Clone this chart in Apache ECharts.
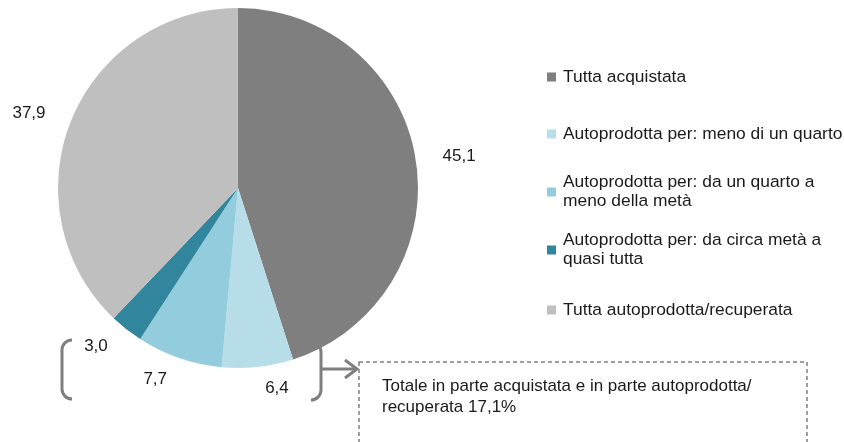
<!DOCTYPE html>
<html>
<head>
<meta charset="utf-8">
<script src="https://cdn.jsdelivr.net/npm/echarts@6/dist/echarts.min.js"></script>
<style>
  html, body { margin: 0; padding: 0; background: #fff; }
  #chart { width: 844px; height: 442px; }
</style>
</head>
<body>
<div id="chart"></div>
<script>
// categorie e valori (%)
const categories = [
  'Tutta acquistata',
  'Autoprodotta per: meno di un quarto',
  'Autoprodotta per: da un quarto a meno della metà',
  'Autoprodotta per: da circa metà a quasi tutta',
  'Tutta autoprodotta/recuperata'
]
const legendLabels = [
  'Tutta acquistata',
  'Autoprodotta per: meno di un quarto',
  'Autoprodotta per: da un quarto a\nmeno della metà',
  'Autoprodotta per: da circa metà a\nquasi tutta',
  'Tutta autoprodotta/recuperata'
]
const values = [45.1, 6.4, 7.7, 3.0, 37.9]
const colors = ['#7f7f7f', '#b7dee8', '#93cddd', '#31859c', '#bfbfbf']
const noteText = 'Totale in parte acquistata e in parte autoprodotta/\nrecuperata 17,1%'

const font = '"Liberation Sans", Arial, sans-serif'
const textColor = '#1a1a1a'
const bracketStyle = { stroke: '#7f7f7f', lineWidth: 3, fill: 'none' }

const myChart = echarts.init(document.getElementById('chart'))

// una legenda per voce, per tenere la spaziatura dell'originale
const legendTops = [77, 134, 192, 250, 310]
const legends = categories.map((name, i) => {
  const twoLines = legendLabels[i].indexOf('\n') >= 0
  return {
    data: [name],
    left: 547,
    top: legendTops[i] - (twoLines ? 28.5 : 9.5),
    padding: 0,
    icon: 'rect',
    itemWidth: 9,
    itemHeight: 9,
    itemGap: 0,
    selectedMode: false,
    formatter: () => legendLabels[i],
    textStyle: {
      fontFamily: font,
      fontSize: 17.4,
      color: textColor,
      lineHeight: 19,
      padding: twoLines ? [19, 0, 0, 2] : [0, 0, 0, 2]
    }
  }
})

myChart.setOption({
  animation: false,
  color: colors,
  legend: legends,
  series: [
    {
      type: 'pie',
      center: [238, 188],
      radius: 180,
      startAngle: 90,
      clockwise: true,
      avoidLabelOverlap: false,
      data: categories.map((name, i) => ({ name: name, value: values[i] })),
      label: {
        show: true,
        position: 'outside',
        fontFamily: font,
        fontSize: 17,
        color: textColor,
        formatter: (p) => p.value.toFixed(1).replace('.', ',')
      },
      labelLine: { show: false, length: 22, length2: 0 },
      emphasis: { disabled: true }
    }
  ],
  graphic: [
    // parentesi sinistra
    { type: 'line', shape: { x1: 62, y1: 350, x2: 62, y2: 389 }, style: bracketStyle },
    { type: 'arc', shape: { cx: 72, cy: 350, r: 10, startAngle: Math.PI, endAngle: Math.PI * 1.5 }, style: bracketStyle },
    { type: 'arc', shape: { cx: 72, cy: 389, r: 10, startAngle: Math.PI / 2, endAngle: Math.PI }, style: bracketStyle },
    // parentesi destra con freccia
    { type: 'line', shape: { x1: 321, y1: 352, x2: 321, y2: 390 }, style: bracketStyle },
    { type: 'arc', shape: { cx: 311, cy: 352, r: 10, startAngle: Math.PI * 1.5, endAngle: Math.PI * 2 }, style: bracketStyle },
    { type: 'arc', shape: { cx: 311, cy: 390, r: 10, startAngle: 0, endAngle: Math.PI / 2 }, style: bracketStyle },
    { type: 'line', shape: { x1: 321, y1: 369, x2: 357, y2: 369 }, style: bracketStyle },
    { type: 'polyline', shape: { points: [[345, 360], [357, 369], [345, 378]] }, style: bracketStyle },
    // riquadro tratteggiato
    {
      type: 'rect',
      shape: { x: 359, y: 362, width: 448, height: 100 },
      style: { fill: 'none', stroke: '#808080', lineWidth: 1.5, lineDash: [4, 3] }
    },
    {
      type: 'text',
      left: 382,
      top: 376,
      style: {
        text: noteText,
        fontFamily: font,
        fontSize: 17,
        lineHeight: 21,
        fill: textColor
      }
    }
  ]
})
</script>
</body>
</html>
